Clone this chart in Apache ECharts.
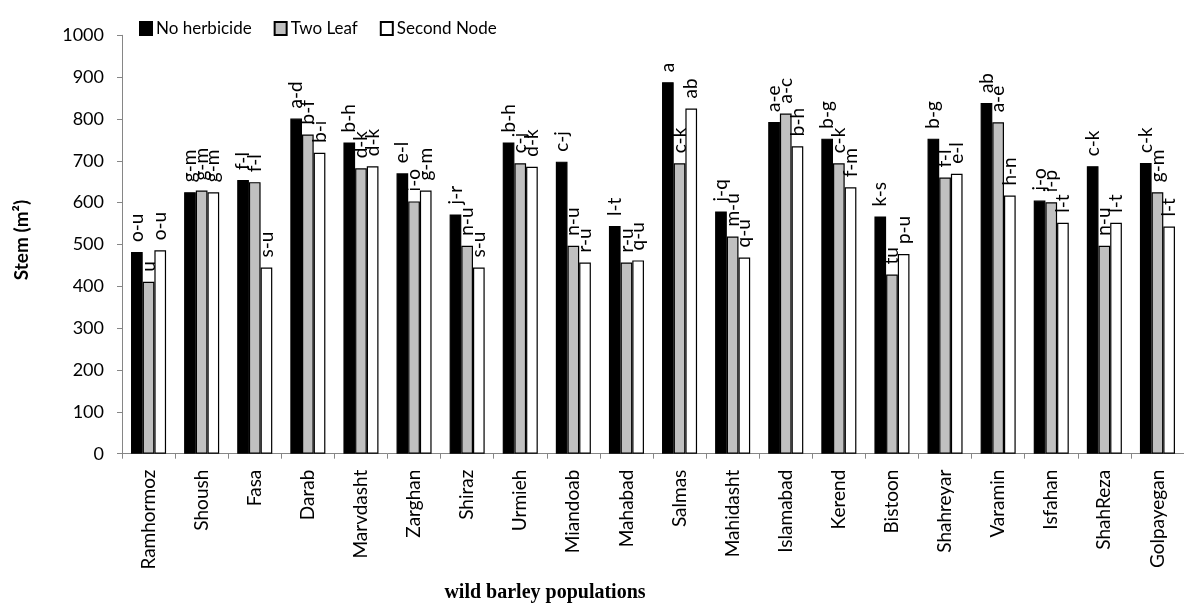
<!DOCTYPE html>
<html>
<head>
<meta charset="utf-8">
<script src="https://cdn.jsdelivr.net/npm/echarts@6/dist/echarts.min.js"></script>
<style>
html,body{margin:0;padding:0;background:#fff;}
#main{width:1184px;height:603px;}
</style>
</head>
<body>
<div id="main"></div>
<script>
const categories = ['Ramhormoz','Shoush','Fasa','Darab','Marvdasht','Zarghan','Shiraz','Urmieh','Miandoab','Mahabad','Salmas','Mahidasht','Islamabad','Kerend','Bistoon','Shahreyar','Varamin','Isfahan','ShahReza','Golpayegan'];

const noHerbicide = [482,625,654,801,744,670,572,744,698,544,888,579,793,753,567,753,838,605,687,695];
const twoLeaf     = [411,629,649,763,682,603,497,694,497,457,694,519,813,694,428,660,792,601,497,625];
const secondNode  = [486,625,445,719,687,629,445,686,457,462,825,469,735,637,477,669,617,552,552,543];

const noHerbicideLetters = ['o-u','g-m','f-l','a-d','b-h','e-l','j-r','b-h','c-j','l-t','a','j-q','a-e','b-g','k-s','b-g','ab','j-o','c-k','c-k'];
const twoLeafLetters     = ['u','g-m','f-l','b-f','d-k','i-o','n-u','c-j','n-u','r-u','c-k','m-u','a-c','c-k','tu','f-l','a-e','i-p','n-u','g-m'];
const secondNodeLetters  = ['o-u','g-m','s-u','b-i','d-k','g-m','s-u','d-k','r-u','q-u','ab','q-u','b-h','f-m','p-u','e-l','h-n','l-t','l-t','l-t'];

const yTicks = [0,100,200,300,400,500,600,700,800,900,1000];

const FONT = 'Lato';

function labelCfg(letters){
  return {
    show: true,
    position: 'top',
    rotate: 90,
    align: 'left',
    verticalAlign: 'middle',
    distance: 10,
    fontFamily: FONT,
    fontSize: 19,
    color: '#000',
    formatter: p => letters[p.dataIndex]
  };
}

const chart = echarts.init(document.getElementById('main'), null, {renderer:'canvas'});
chart.setOption({
  animation: false,
  backgroundColor: '#fff',
  textStyle: {fontFamily: FONT},
  legend: {
    left: 134, top: 15,
    itemWidth: 12, itemHeight: 13, itemGap: 22,
    icon: 'rect',
    textStyle: {fontFamily: FONT, fontSize: 17, color: '#000', padding: [0,0,0,-1]},
    data: ['No herbicide','Two Leaf','Second Node']
  },
  grid: {left: 122, right: -4, top: 35.3, bottom: 149.3, containLabel: false},
  xAxis: {
    type: 'category',
    data: categories,
    axisLine: {lineStyle: {color: '#868686', width: 1}},
    axisTick: {show: true, length: 5, lineStyle: {color: '#868686'}},
    axisLabel: {interval: 0, rotate: 90, margin: 16, fontFamily: FONT, fontSize: 19, color: '#000'}
  },
  yAxis: {
    type: 'value',
    min: yTicks[0], max: yTicks[yTicks.length-1], interval: 100,
    splitLine: {show: false},
    axisLine: {show: true, lineStyle: {color: '#868686', width: 1}},
    axisTick: {show: true, length: 5, lineStyle: {color: '#868686'}},
    axisLabel: {margin: 18, fontFamily: FONT, fontSize: 18, color: '#000', formatter: v => String(v)}
  },
  series: [
    {name: 'No herbicide', type: 'bar', data: noHerbicide, barGap: '0%', barCategoryGap: '34%',
     itemStyle: {color: '#000', borderColor: '#000', borderWidth: 1.2}, label: labelCfg(noHerbicideLetters)},
    {name: 'Two Leaf', type: 'bar', data: twoLeaf, barGap: '0%', barCategoryGap: '34%',
     itemStyle: {color: '#c0c0c0', borderColor: '#000', borderWidth: 1.2}, label: labelCfg(twoLeafLetters)},
    {name: 'Second Node', type: 'bar', data: secondNode, barGap: '0%', barCategoryGap: '34%',
     itemStyle: {color: '#fff', borderColor: '#000', borderWidth: 1.2}, label: labelCfg(secondNodeLetters)}
  ],
  graphic: [
    {type: 'text', x: 22, y: 240, rotation: Math.PI/2,
     style: {text: 'Stem (m²)', font: 'bold 19px Lato', fill: '#000', textAlign: 'center', textVerticalAlign: 'middle'}},
    {type: 'text', x: 545, y: 593,
     style: {text: 'wild barley populations', font: 'bold 20px "Liberation Serif"', fill: '#000', textAlign: 'center', textVerticalAlign: 'middle'}}
  ]
});
</script>
</body>
</html>
